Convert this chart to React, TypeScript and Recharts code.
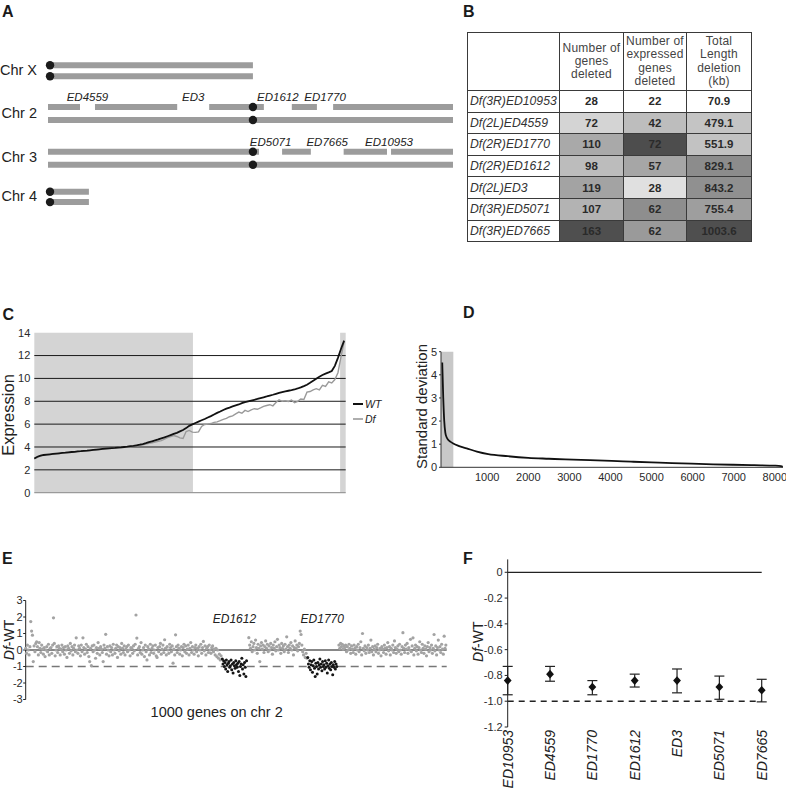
import React from 'react';
import {
  ComposedChart,
  LineChart,
  Line,
  Scatter,
  XAxis,
  YAxis,
  ReferenceLine,
  ReferenceArea,
  ErrorBar,
} from 'recharts';

const FONT = '"Liberation Sans", Arial, Helvetica, sans-serif';
const INK = '#222';

// ---------------- Panel A : chromosomes ----------------
const chromNames = ['Chr X', 'Chr 2', 'Chr 3', 'Chr 4'];
const chromLength = [50.6, 100, 100, 10.1];
const centromerePos = [0.5, 50.6, 50.6, 0.5];
const delNames = ['ED4559', 'ED3', 'ED1612', 'ED1770', 'ED5071', 'ED7665', 'ED10953'];
const delChrom = [1, 1, 1, 1, 2, 2, 2];
const delStart = [7.9, 31.9, 53.3, 66.4, 52.1, 64.9, 83.7];
const delEnd = [11.6, 39.8, 60.2, 70.4, 57.8, 73.0, 84.7];

// layout of the lanes (chart units of the diagram)
const laneY = [70.8, 113.5, 158.2, 196.9];
const laneHalf = [5.5, 6.5, 6.5, 5.2];
const laneLabelY = laneY.map((v) => v - 1);

// ---------------- Panel B : table ----------------
const tblRowNames = [
  'Df(3R)ED10953',
  'Df(2L)ED4559',
  'Df(2R)ED1770',
  'Df(2R)ED1612',
  'Df(2L)ED3',
  'Df(3R)ED5071',
  'Df(3R)ED7665',
];
const genesDeleted = [28, 72, 110, 98, 119, 107, 163];
const expressedDeleted = [22, 42, 72, 57, 28, 62, 62];
const totalLengthKb = [70.9, 479.1, 551.9, 829.1, 843.2, 755.4, 1003.6];
const tblHeaders = [
  ['Number of', 'genes', 'deleted'],
  ['Number of', 'expressed', 'genes', 'deleted'],
  ['Total', 'Length', 'deletion', '(kb)'],
];
// cell shading (style)
const shadeGenes = ['#ffffff', '#d4d4d4', '#a9a9a9', '#bcbcbc', '#a3a3a3', '#b3b3b3', '#4f4f4f'];
const shadeExpressed = ['#ffffff', '#bdbdbd', '#4d4d4d', '#a6a6a6', '#e0e0e0', '#8e8e8e', '#9a9a9a'];
const shadeLength = ['#ffffff', '#c4c4c4', '#c2c2c2', '#8c8c8c', '#909090', '#9e9e9e', '#4f4f4f'];

// ---------------- Panel C : expression ----------------
const cWT = [
  3.0, 3.15, 3.25, 3.3, 3.33, 3.36, 3.39, 3.42, 3.45, 3.48,
  3.5, 3.53, 3.56, 3.58, 3.61, 3.63, 3.66, 3.68, 3.71, 3.74,
  3.77, 3.8, 3.83, 3.86, 3.88, 3.9, 3.92, 3.95, 3.97, 4.0,
  4.03, 4.07, 4.1, 4.15, 4.2, 4.26, 4.33, 4.42, 4.5, 4.58,
  4.66, 4.76, 4.84, 4.94, 5.04, 5.14, 5.24, 5.36, 5.48, 5.65,
  5.85, 5.98, 6.1, 6.22, 6.34, 6.45, 6.58, 6.7, 6.84, 6.98,
  7.1, 7.24, 7.36, 7.45, 7.55, 7.64, 7.72, 7.83, 7.92, 7.99,
  8.06, 8.13, 8.2, 8.28, 8.35, 8.42, 8.5, 8.57, 8.65, 8.73,
  8.8, 8.86, 8.92, 8.97, 9.03, 9.12, 9.22, 9.33, 9.45, 9.62,
  9.8, 9.98, 10.15, 10.3, 10.42, 10.53, 10.65, 11.1, 11.8, 12.6,
  13.3,
];
const cDf = [
  2.95, 3.1, 3.2, 3.27, 3.3, 3.33, 3.36, 3.4, 3.43, 3.46,
  3.49, 3.52, 3.54, 3.57, 3.6, 3.62, 3.65, 3.67, 3.7, 3.73,
  3.76, 3.79, 3.82, 3.85, 3.87, 3.89, 3.91, 3.94, 3.96, 3.98,
  4.0, 4.03, 4.06, 4.1, 4.14, 4.18, 4.25, 4.32, 4.36, 4.42,
  4.5, 4.56, 4.68, 4.82, 4.9, 5.0, 4.92, 4.8, 4.75, 5.35,
  5.45, 5.3, 5.28, 5.32, 5.8, 5.97, 6.0, 6.05, 6.15, 6.2,
  6.3, 6.42, 6.5, 6.65, 6.72, 6.9, 7.05, 6.95, 7.2, 7.1,
  7.25, 7.35, 7.3, 7.42, 7.55, 7.63, 7.7, 7.6, 7.9, 8.13,
  8.0, 8.05, 7.98, 8.1, 7.88, 8.0, 8.2, 8.15, 8.8, 8.85,
  9.0, 9.1, 9.0, 9.4, 9.3, 9.7, 9.6, 9.9, 10.5, 11.9,
  13.25,
];
const cData = cWT.map((wt, i) => ({ rank: i, wt, df: cDf[i] }));

// ---------------- Panel D : standard deviation ----------------
const dRank = [-95, -70, -46, -20, 12, 60, 110, 173, 300, 499, 750, 1024, 1500, 2000, 2500, 2900, 3500, 4027, 4500, 5000, 5500, 5973, 6500, 6985, 7500, 8000, 8150, 8194];
const dSD = [4.53, 3.0, 2.0, 1.5, 1.3, 1.17, 1.1, 1.03, 0.93, 0.82, 0.68, 0.57, 0.48, 0.41, 0.37, 0.34, 0.31, 0.28, 0.245, 0.21, 0.18, 0.155, 0.13, 0.11, 0.09, 0.07, 0.05, 0.02];
const dTicks = [1000, 2000, 3000, 4000, 5000, 6000, 7000, 8000];
const dData = dRank.map((rank, i) => ({ rank, sd: dSD[i] }));

// ---------------- Panel E : Df-WT along chr 2 ----------------
const eGrayAStart = 0;
const eGrayA = [
  0.1, -0.2, 0.3, 0.0, -0.3, 0.2, 1.72, 1.15, 0.9, -0.7, 0.25, -0.1, 0.4, 0.5, 0.2, -0.3, 0.45, 0.1, -0.15, 0.3,
  0.05, -0.25, 0.15, -0.4, 0.0, 0.2, -0.1, 0.35, -0.3, 0.1, 0.15, -0.2, 0.3, 1.95, 0.4, -0.35, 0.0, 0.2, -0.15, 0.25,
  0.1, -0.3, 0.05, 0.3, -0.1, 0.15, -0.25, 0.2, 0.0, -0.45, 0.25, 0.1, -0.2, 0.4, -0.05, 0.2, -0.3, 0.1, 0.3, -0.1,
  0.74, 0.0, -0.2, 0.25, 0.1, -0.35, 0.3, -0.1, 0.74, 0.15, -0.25, 0.05, 0.35, -0.15, 0.2, -0.4, -0.7, 0.1, -0.95, 0.25,
  -0.1, 0.3, 0.0, -0.5, 0.15, -0.2, 0.45, 0.1, -0.3, 0.2, 0.05, -0.15, -0.7, 0.3, 0.1, 0.95, -0.25, 0.2, 0.0, -0.35,
  0.25, -0.1, 0.15, -0.3, 0.35, 0.0, -0.2, 0.1, 0.3, -0.45, 0.2, -0.05, 0.15, -0.25, 0.4, 0.1, -0.15, 0.25, -0.3, 0.05,
  0.2, -0.1, 0.3, 0.0, -0.35, 0.15, 0.1, -0.2, 0.25, -0.05, 0.35, 2.12, 0.72, -0.3, 0.1, 0.2, -0.15, 0.45, -0.25, 0.0,
  0.15, -0.4, 0.3, -0.1, -0.6, 0.2, 0.05, -0.3, 0.35, -0.15, 0.1, 0.25, -0.2, 0.0, 0.3, -0.35, -0.45, 0.15, -0.1, 0.2,
  0.4, -0.25, 0.05, 0.3, -0.15, 0.62, 0.1, -0.3, 0.2, 0.0, -0.2, 0.35, 0.15, -0.1, 0.25, -0.8, 0.05, -0.3, 0.92, 0.2,
  -0.15, 0.3, 0.1, -0.25, 0.0, 0.2, -0.35, 0.15, 0.35, -0.1, 0.25, -0.2, 0.05, 0.3, -0.3, 0.1, 0.45, -0.15, 0.2, 0.0,
  -0.25, 0.15, 0.3, -0.1, 0.1, -0.35, 0.2, 0.0, 0.35, -0.2, 0.15, 0.52, -0.05, 0.25, -0.3, 0.1, 0.2, -0.15, 0.3, 0.0,
  -0.2, 0.15, 0.25, -0.1, 0.05, -0.3, 0.1, -0.4, 0.0, -0.5, -0.25, -0.6, -0.35,
];
const eBlack1612Start = 467;
const eBlack1612 = [
  -0.55, -0.85, -0.65, -1.0, -0.75, -1.15, -0.6, -0.9, -1.3, -0.8,
  -0.7, -1.05, -0.95, -0.6, -1.2, -0.85, -1.4, -0.75, -0.95, -1.1,
  -0.65, -0.9, -1.05, -0.8, -1.3, -0.7, -1.55, -1.0, -0.85, -0.5,
  -1.15, -0.9, -1.45, -0.75, -1.05, -1.6, -0.65,
];
const eGrayBStart = 530;
const eGrayB = [
  0.75, 0.3, 0.1, 0.5, -0.1, 0.2, 0.4, 0.0, 0.6, 0.15, -0.2, 0.35, 0.1, -0.7, 0.25, 0.45, 0.05, 0.3, -0.15, 0.2,
  0.55, 0.1, 0.35, -0.1, 0.25, 0.0, 0.4, 0.15, -0.25, 0.3, 0.1, 0.5, -0.05, 0.2, 0.65, 0.0, 0.3, 0.15, -0.2, 0.4,
  0.1, 0.25, -0.1, 0.35, 0.05, 0.8, 0.2, -0.15, 0.3, 0.1, 0.45, 0.0, 0.25, -0.3, 0.15, 0.55, 0.1, 0.3, -0.05, 0.2,
  0.4, 1.15, 0.94, 0.3, -0.1, -0.3, 0.05, -0.45, -0.2, -0.5,
];
const eBlack1770Start = 670;
const eBlack1770 = [
  -0.45, -0.85, -1.05, -0.65, -1.2, -0.9, -0.7, -1.35, -0.95, -0.6,
  -1.1, -1.6, -0.8, -1.0, -1.45, -0.75, -1.15, -0.9, -0.55, -1.05,
  -0.85, -1.25, -0.7, -1.0, -0.9, -1.15, -0.65, -1.05, -0.8, -1.4,
  -0.95, -0.6, -1.1, -0.85, -1.2, -0.75, -1.0, -1.5, -0.9, -1.05,
  -0.7, -1.15, -0.85, -1.0,
];
const eGrayCStart = 744;
const eGrayC = [
  0.3, 0.1, 0.4, 0.2, 0.35, 0.05, 0.25, 0.15, 0.3, -0.1, 0.2, 0.0, 0.35, 0.1, -0.2, 0.25, 0.05, -0.15, 0.3, 0.1,
  -0.25, 0.2, 0.0, 0.35, -0.1, 0.15, 0.5, -0.3, 1.0, 0.1, -0.05, 0.25, -0.2, 0.15, 0.0, 0.3, -0.15, 0.1, 0.6, -0.1,
  0.2, -0.3, 0.05, 0.25, -0.1, 0.15, 0.35, -0.2, 0.0, 0.1, -0.35, 0.2, 0.05, -0.15, 0.3, 0.1, -0.25, 0.15, 0.45, -0.05,
  0.2, -0.3, 0.1, 0.0, 0.3, -0.15, 0.55, 0.15, -0.2, 0.05, 0.25, -0.1, 0.35, 0.0, -0.25, 0.2, 1.05, 0.1, -0.15, 0.3,
  0.05, 0.4, -0.2, 0.15, 0.0, 0.65, -0.1, 0.25, 0.74, -0.3, 0.1, 0.3, -0.05, 0.2, -0.25, 0.15, 0.5, 0.0, -0.15, 0.35,
  0.1, -0.2, 0.25, 0.05, -0.35, 0.2, 0.45, -0.1, 0.15, 0.0, 0.3, -0.2, 0.1, 0.94, -0.05, 0.25, -0.3, 0.15, 0.6, 0.0,
  0.2, -0.15, 0.35, 0.05, -0.25, 0.84, 0.1, 0.3,
];
const eGeneStepGray = 2;
const eGeneStepBlack = 1.6;
const eClusterNames = ['ED1612', 'ED1770'];
const eClusterLabelY = 1.9;

// ---------------- Panel F : mean Df-WT per deficiency ----------------
const fNames = ['ED10953', 'ED4559', 'ED1770', 'ED1612', 'ED3', 'ED5071', 'ED7665'];
const fMean = [-0.84, -0.79, -0.89, -0.84, -0.84, -0.89, -0.915];
const fLower = [-0.95, -0.845, -0.95, -0.89, -0.935, -0.985, -1.005];
const fUpper = [-0.73, -0.73, -0.84, -0.79, -0.75, -0.805, -0.83];
const fTicks = [0, -0.2, -0.4, -0.6, -0.8, -1, -1.2];

// ---------------- derived tables ----------------
type Seg = { x1: number; x2: number; y: number };
const aSegs: Seg[] = [];
const aCentromeres: { x: number; y: number }[] = [];
const aDelLabels: { x: number; y: number; name: string }[] = [];
chromNames.forEach((_, i) => {
  const top = laneY[i] - laneHalf[i];
  const bot = laneY[i] + laneHalf[i];
  const dels = delStart
    .map((s, k) => ({ s, e: delEnd[k], c: delChrom[k], name: delNames[k] }))
    .filter((d) => d.c === i)
    .sort((a, b) => a.s - b.s);
  let cur = 0;
  dels.forEach((d) => {
    aSegs.push({ x1: cur, x2: d.s, y: top });
    cur = d.e;
    aDelLabels.push({ x: (d.s + d.e) / 2, y: top - 10, name: d.name });
  });
  aSegs.push({ x1: cur, x2: chromLength[i], y: top });
  aSegs.push({ x1: 0, x2: chromLength[i], y: bot });
  aCentromeres.push({ x: centromerePos[i], y: top });
  aCentromeres.push({ x: centromerePos[i], y: bot });
});

const toPts = (vals: number[], start: number, step: number) =>
  vals.map((y, i) => ({ x: start + i * step, y }));
const eGray = [
  ...toPts(eGrayA, eGrayAStart, eGeneStepGray),
  ...toPts(eGrayB, eGrayBStart, eGeneStepGray),
  ...toPts(eGrayC, eGrayCStart, eGeneStepGray),
];
const eBlack = [
  ...toPts(eBlack1612, eBlack1612Start, eGeneStepBlack),
  ...toPts(eBlack1770, eBlack1770Start, eGeneStepBlack),
];
const eLabels = [
  { x: eBlack1612Start + ((eBlack1612.length - 1) * eGeneStepBlack) / 2, y: eClusterLabelY, name: eClusterNames[0] },
  { x: eBlack1770Start + ((eBlack1770.length - 1) * eGeneStepBlack) / 2, y: eClusterLabelY, name: eClusterNames[1] },
];

const fData = fNames.map((name, i) => ({
  name,
  mean: fMean[i],
  err: [fMean[i] - fLower[i], fUpper[i] - fMean[i]],
}));

// ---------------- shapes ----------------
const dotShape = (r: number, fill: string) => (p: any) =>
  p.cx == null ? <g /> : <circle cx={p.cx} cy={p.cy} r={r} fill={fill} />;

const textShape = (size: number) => (p: any) =>
  p.cx == null ? (
    <g />
  ) : (
    <text
      x={p.cx}
      y={p.cy}
      textAnchor="middle"
      dominantBaseline="central"
      fontStyle="italic"
      fontSize={size}
      fill={INK}
      fontFamily={FONT}
    >
      {p.payload.name}
    </text>
  );

const diamondShape = (p: any) =>
  p.cx == null ? (
    <g />
  ) : (
    <polygon
      points={`${p.cx},${p.cy - 4.3} ${p.cx + 3.9},${p.cy} ${p.cx},${p.cy + 4.3} ${p.cx - 3.9},${p.cy}`}
      fill="#111"
    />
  );

const FTick = (p: any) => (
  <text
    transform={`translate(${p.x},${p.y}) rotate(-90)`}
    textAnchor="end"
    dy="0.36em"
    fontStyle="italic"
    fontSize={14}
    fill={INK}
    fontFamily={FONT}
  >
    {p.payload.value}
  </text>
);

const tickStyle = { fill: '#2a2a2a', fontSize: 11, fontFamily: FONT };

const cellBase: React.CSSProperties = {
  border: '1px solid #3a3a3a',
  padding: 0,
  textAlign: 'center',
  verticalAlign: 'middle',
};

export default function App() {
  return (
    <div
      style={{
        position: 'absolute',
        left: 0,
        top: 0,
        width: 786,
        height: 793,
        background: '#fff',
        fontFamily: FONT,
        overflow: 'hidden',
      }}
    >
      {/* Panel A */}
      <div style={{ position: 'absolute', left: 0, top: 0 }}>
        <ComposedChart width={460} height={215} margin={{ top: 0, right: 7, bottom: 0, left: 0 }}>
          <XAxis type="number" dataKey="x" domain={[0, 100]} hide />
          <YAxis
            type="number"
            dataKey="y"
            domain={[0, 215]}
            reversed
            width={48}
            ticks={laneLabelY}
            interval={0}
            tickFormatter={(v: number) => chromNames[laneLabelY.indexOf(v)] ?? ''}
            axisLine={false}
            tickLine={false}
            tickSize={0}
            tickMargin={11}
            tick={{ fill: INK, fontSize: 14.5, fontFamily: FONT }}
          />
          {aSegs.map((s, i) => (
            <ReferenceLine
              key={i}
              segment={[
                { x: s.x1, y: s.y },
                { x: s.x2, y: s.y },
              ]}
              stroke="#9c9c9c"
              strokeWidth={6}
              ifOverflow="visible"
            />
          ))}
          <Scatter data={aCentromeres} shape={dotShape(4.2, '#1b1b1b')} isAnimationActive={false} />
          <Scatter data={aDelLabels} shape={textShape(11.5)} isAnimationActive={false} />
        </ComposedChart>
      </div>

      {/* Panel B */}
      <table
        style={{
          position: 'absolute',
          left: 467,
          top: 32,
          width: 284,
          borderCollapse: 'collapse',
          tableLayout: 'fixed',
          fontFamily: FONT,
          color: '#2a2a2a',
        }}
      >
        <colgroup>
          <col style={{ width: 92 }} />
          <col style={{ width: 64 }} />
          <col style={{ width: 63 }} />
          <col style={{ width: 65 }} />
        </colgroup>
        <tbody>
          <tr style={{ height: 58 }}>
            <td style={cellBase} />
            {tblHeaders.map((h, i) => (
              <td
                key={i}
                style={{ ...cellBase, fontSize: 12, lineHeight: '13.3px', letterSpacing: 0.2, color: '#444' }}
              >
                {h.map((l, j) => (
                  <div key={j}>{l}</div>
                ))}
              </td>
            ))}
          </tr>
          {tblRowNames.map((n, i) => (
            <tr key={n} style={{ height: 21.6 }}>
              <td
                style={{
                  ...cellBase,
                  textAlign: 'left',
                  paddingLeft: 2,
                  fontStyle: 'italic',
                  fontSize: 12.2,
                  whiteSpace: 'nowrap',
                  color: '#333',
                }}
              >
                {n}
              </td>
              <td style={{ ...cellBase, background: shadeGenes[i], fontWeight: 'bold', fontSize: 11.5 }}>
                {genesDeleted[i]}
              </td>
              <td style={{ ...cellBase, background: shadeExpressed[i], fontWeight: 'bold', fontSize: 11.5 }}>
                {expressedDeleted[i]}
              </td>
              <td style={{ ...cellBase, background: shadeLength[i], fontWeight: 'bold', fontSize: 11.5 }}>
                {totalLengthKb[i].toFixed(1)}
              </td>
            </tr>
          ))}
        </tbody>
      </table>

      {/* Panel C */}
      <div style={{ position: 'absolute', left: 0, top: 300 }}>
        <LineChart width={400} height={200} data={cData} margin={{ top: 32.7, right: 54.3, bottom: 7.3, left: 0 }}>
          <XAxis type="number" dataKey="rank" domain={[0, 100.5]} hide />
          <YAxis
            type="number"
            domain={[0, 14]}
            ticks={[0, 2, 4, 6, 8, 10, 12, 14]}
            interval={0}
            width={34.3}
            axisLine={false}
            tickLine={false}
            tickSize={0}
            tickMargin={4}
            tick={tickStyle}
          />
          <ReferenceArea x1={0} x2={51.2} y1={0} y2={14} fill="#d4d4d4" fillOpacity={1} stroke="none" />
          <ReferenceArea x1={98.7} x2={100.5} y1={0} y2={14} fill="#d4d4d4" fillOpacity={1} stroke="none" />
          {[2, 4, 6, 8, 10, 12].map((v) => (
            <ReferenceLine key={v} y={v} stroke="#1a1a1a" strokeWidth={1} />
          ))}
          <ReferenceLine y={0} stroke="#9a9a9a" strokeWidth={1.2} />
          <Line dataKey="df" type="linear" stroke="#9a9a9a" strokeWidth={1.4} dot={false} isAnimationActive={false} />
          <Line dataKey="wt" type="linear" stroke="#111" strokeWidth={1.8} dot={false} isAnimationActive={false} />
        </LineChart>
      </div>

      {/* Panel D */}
      <div style={{ position: 'absolute', left: 400, top: 300 }}>
        <LineChart width={386} height={200} data={dData} margin={{ top: 51.7, right: 3, bottom: 0, left: 0 }}>
          <XAxis
            type="number"
            dataKey="rank"
            domain={[-125, 8200]}
            ticks={dTicks}
            interval={0}
            height={32.7}
            tickSize={0}
            tickMargin={6}
            axisLine={{ stroke: '#333' }}
            tickLine={false}
            tick={tickStyle}
          />
          <YAxis
            type="number"
            domain={[0, 5]}
            ticks={[0, 1, 2, 3, 4, 5]}
            interval={0}
            width={41}
            tickSize={2}
            tickMargin={2}
            axisLine={{ stroke: '#333' }}
            tickLine={{ stroke: '#333' }}
            tick={tickStyle}
          />
          <ReferenceArea x1={-125} x2={175} y1={0} y2={5} fill="#c8c8c8" fillOpacity={1} stroke="none" />
          <Line dataKey="sd" type="monotone" stroke="#111" strokeWidth={1.8} dot={false} isAnimationActive={false} />
        </LineChart>
      </div>

      {/* Panel E */}
      <div style={{ position: 'absolute', left: 0, top: 560 }}>
        <ComposedChart width={460} height={150} margin={{ top: 40.5, right: 13.3, bottom: 10.5, left: 0 }}>
          <XAxis type="number" dataKey="x" domain={[0, 1000]} hide />
          <YAxis
            type="number"
            dataKey="y"
            domain={[-3, 3]}
            ticks={[-3, -2, -1, 0, 1, 2, 3]}
            interval={0}
            width={25.7}
            tickSize={2.5}
            tickMargin={0.5}
            axisLine={{ stroke: INK }}
            tickLine={{ stroke: INK }}
            tick={tickStyle}
          />
          <ReferenceLine y={0} stroke="#111" strokeWidth={1.2} />
          <ReferenceLine y={-1} stroke="#777" strokeWidth={1.5} strokeDasharray="8 5" />
          <Scatter data={eGray} shape={dotShape(1.6, '#a3a3a3')} isAnimationActive={false} />
          <Scatter data={eBlack} shape={dotShape(1.5, '#151515')} isAnimationActive={false} />
          <Scatter data={eLabels} shape={textShape(12)} isAnimationActive={false} />
        </ComposedChart>
      </div>

      {/* Panel F */}
      <div style={{ position: 'absolute', left: 450, top: 550 }}>
        <ComposedChart width={336} height={243} data={fData} margin={{ top: 9.4, right: 24.3, bottom: 0, left: 0 }}>
          <XAxis
            dataKey="name"
            type="category"
            height={66}
            axisLine={false}
            tickLine={false}
            tickSize={0}
            tickMargin={3}
            interval={0}
            tick={(p: any) => <FTick {...p} />}
          />
          <YAxis
            type="number"
            dataKey="mean"
            domain={[-1.2, 0.1]}
            ticks={fTicks}
            interval={0}
            width={57.7}
            tickSize={3}
            tickMargin={2}
            tickFormatter={(v: number) => (v === 0 ? '0' : v.toFixed(1))}
            axisLine={{ stroke: INK }}
            tickLine={{ stroke: INK }}
            tick={tickStyle}
          />
          <ReferenceLine y={0} stroke={INK} strokeWidth={1.2} />
          <ReferenceLine y={-1} stroke={INK} strokeWidth={1.4} strokeDasharray="6 5" />
          <Scatter dataKey="mean" shape={diamondShape} isAnimationActive={false}>
            <ErrorBar dataKey="err" direction="y" width={5} stroke={INK} strokeWidth={1.2} />
          </Scatter>
        </ComposedChart>
      </div>

      {/* titles, panel letters, legend */}
      <svg
        width={786}
        height={793}
        style={{ position: 'absolute', left: 0, top: 0, pointerEvents: 'none' }}
        fontFamily={FONT}
      >
        <g fontWeight="bold" fontSize={16} fill="#1a1a1a">
          <text x={2} y={16.7}>A</text>
          <text x={463} y={16.7}>B</text>
          <text x={2.5} y={319.5}>C</text>
          <text x={463} y={318.3}>D</text>
          <text x={2} y={564}>E</text>
          <text x={463} y={564}>F</text>
        </g>
        <text
          transform="translate(8.3,415) rotate(-90)"
          textAnchor="middle"
          dominantBaseline="central"
          fontSize={16.5}
          fill={INK}
        >
          Expression
        </text>
        <text
          transform="translate(421.7,406.5) rotate(-90)"
          textAnchor="middle"
          dominantBaseline="central"
          fontSize={15}
          fill={INK}
        >
          Standard deviation
        </text>
        <text
          transform="translate(9,640) rotate(-90)"
          textAnchor="middle"
          dominantBaseline="central"
          fontSize={14}
          fill={INK}
        >
          <tspan fontStyle="italic">Df</tspan>-WT
        </text>
        <text
          transform="translate(478.3,641.7) rotate(-90)"
          textAnchor="middle"
          dominantBaseline="central"
          fontSize={14}
          fill={INK}
        >
          <tspan fontStyle="italic">Df</tspan>-WT
        </text>
        <text x={216.7} y={711.7} textAnchor="middle" dominantBaseline="central" fontSize={14.5} fill={INK}>
          1000 genes on chr 2
        </text>
        <line x1={353} y1={404} x2={363} y2={404} stroke="#111" strokeWidth={2} />
        <text x={365} y={404} dominantBaseline="central" fontSize={10.5} fontStyle="italic" fill={INK}>
          WT
        </text>
        <line x1={353} y1={419} x2={363} y2={419} stroke="#9a9a9a" strokeWidth={1.6} />
        <text x={365} y={419} dominantBaseline="central" fontSize={10.5} fontStyle="italic" fill={INK}>
          Df
        </text>
      </svg>
    </div>
  );
}
